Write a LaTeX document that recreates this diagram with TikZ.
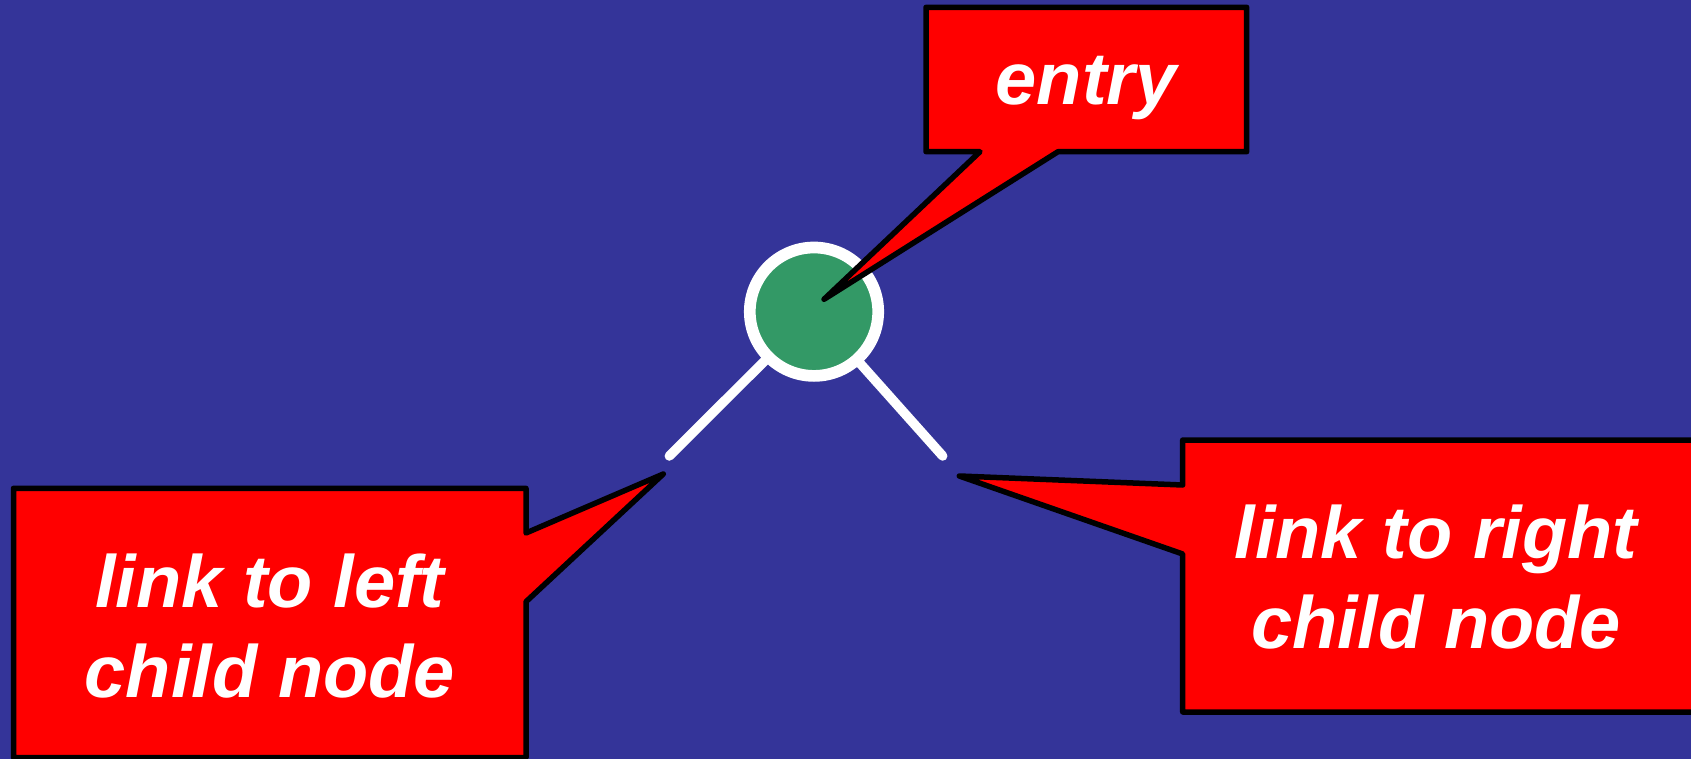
\documentclass[tikz,border=0pt]{standalone}
\usepackage{fontspec}
\setmainfont{Liberation Sans}
\definecolor{bgblue}{RGB}{52,52,153}
\definecolor{nodegreen}{RGB}{51,153,102}
\begin{document}
\begin{tikzpicture}[x=1pt,y=-1pt,
  callout/.style={fill=red, draw=black, line width=5.5pt, line join=round},
  calltext/.style={text=white, font=\fontsize{74}{90}\selectfont\bfseries\itshape, inner sep=0pt, align=center, anchor=base},
  link/.style={draw=white, line width=9.5pt, line cap=round},
  treenode/.style={circle, draw=white, line width=11.7pt, fill=nodegreen, inner sep=0pt, minimum size=128.4pt}]
\useasboundingbox (0,0) rectangle (1691,759);
\fill[bgblue] (0,0) rectangle (1691,759);
% tree node and links
\coordinate (c) at (814,311.7);
\coordinate (lend) at (669.3,456);
\coordinate (rend) at (942.7,456);
\draw[link] (c) -- (lend);
\draw[link] (c) -- (rend);
\node[treenode] (root) at (c) {};
% entry callout
\coordinate (etip) at (824,299.3);
\draw[callout] (etip) -- (980,151.7) -- (926,151.7) -- (926,7.3) -- (1246.7,7.3) -- (1246.7,151.7) -- (1058,151.7) -- cycle;
\node[calltext] (entry) at (1086.3,105) {entry};
% left callout
\coordinate (ltip) at (663.3,474);
\draw[callout] (ltip) -- (526,533) -- (526,488.3) -- (13.5,488.3) -- (13.5,757.5) -- (526,757.5) -- (526,601.7) -- cycle;
\node[calltext] (lefttext) at (269.8,697) {link to left\\child node};
% right callout
\coordinate (rtip) at (959.3,476);
\draw[callout] (rtip) -- (1182.7,485) -- (1182.7,440) -- (1700,440) -- (1700,712) -- (1182.7,712) -- (1182.7,554) -- cycle;
\node[calltext] (righttext) at (1436,648) {link to right\\child node};
\end{tikzpicture}
\end{document}
